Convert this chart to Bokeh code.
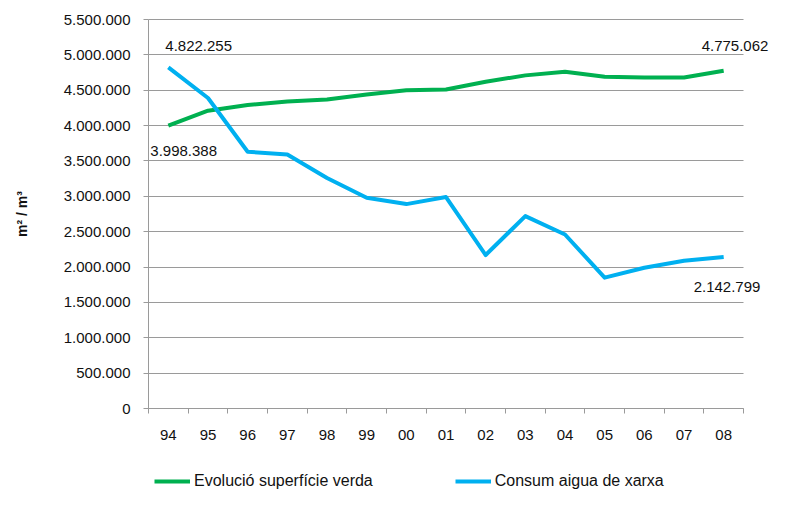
import math
from bokeh.plotting import figure
from bokeh.models import Range1d, FixedTicker, Legend, LegendItem, ColumnDataSource, LabelSet, Label
from bokeh.core.properties import value
from bokeh.embed import file_html
from bokeh.resources import INLINE

years = ["94", "95", "96", "97", "98", "99", "00", "01", "02", "03", "04", "05", "06", "07", "08"]
verda = [3998388, 4210000, 4290000, 4340000, 4370000, 4440000, 4500000, 4510000,
         4620000, 4710000, 4760000, 4690000, 4680000, 4680000, 4775062]
aigua = [4822255, 4390000, 3630000, 3590000, 3260000, 2980000, 2890000, 2990000,
         2170000, 2720000, 2460000, 1850000, 1990000, 2090000, 2142799]
y_ticks = list(range(0, 5500001, 500000))
Y_MAX = 5500000
series_names = ["Evolució superfície verda", "Consum aigua de xarxa"]
y_title = "m² / m³"

GREEN = "#00B050"
BLUE = "#00B0F0"
GRID = "#9A9A9A"
TXT = "#111111"
FONT = "Liberation Sans"
FS = "15px"

# layout (pixels)
W, H = 779, 495
LEFT, TOP = 148, 19
AX_RIGHT, AX_BOTTOM = 743, 408     # where the category axis ends / zero line sits


def fmt(v):
    return f"{v:,}".replace(",", ".")


n = len(years)
xs = [i + 0.5 for i in range(n)]

# the frame covers the whole canvas so texts and legend are never clipped
unit = (AX_RIGHT - LEFT) / n
x_start = -LEFT / unit
x_end = (W - LEFT) / unit
per_px = Y_MAX / (AX_BOTTOM - TOP)
y_start = -per_px * (H - AX_BOTTOM)
y_end = Y_MAX + per_px * TOP

p = figure(width=W, height=H, output_backend="svg", toolbar_location=None,
           x_range=Range1d(x_start, x_end), y_range=Range1d(y_start, y_end),
           min_border_left=0, min_border_right=0, min_border_top=0, min_border_bottom=0)
p.outline_line_color = None
p.background_fill_color = "white"
p.border_fill_color = "white"

# Category axis
p.xaxis.fixed_location = 0
p.xaxis.bounds = (0, n)
p.xaxis.ticker = FixedTicker(ticks=xs, minor_ticks=list(range(n + 1)))
p.xaxis.major_label_overrides = {x: y for x, y in zip(xs, years)}
p.xaxis.major_tick_out = 0
p.xaxis.major_tick_in = 0
p.xaxis.minor_tick_out = 5
p.xaxis.minor_tick_in = 0
p.xaxis.minor_tick_line_color = GRID
p.xaxis.axis_line_color = GRID
p.xaxis.major_label_standoff = 16
p.xaxis.major_label_text_font = FONT
p.xaxis.major_label_text_font_size = FS
p.xaxis.major_label_text_color = TXT

# Value axis
p.yaxis.fixed_location = 0
p.yaxis.bounds = (0, Y_MAX)
p.yaxis.ticker = FixedTicker(ticks=y_ticks)
p.yaxis.major_label_overrides = {t: fmt(t) for t in y_ticks}
p.yaxis.major_tick_out = 5
p.yaxis.major_tick_in = 0
p.yaxis.minor_tick_line_color = None
p.yaxis.major_tick_line_color = GRID
p.yaxis.axis_line_color = GRID
p.yaxis.major_label_standoff = 13
p.yaxis.major_label_text_font = FONT
p.yaxis.major_label_text_font_size = FS
p.yaxis.major_label_text_color = TXT

# Value axis title, centred on the value range
p.add_layout(Label(x=x_start, y=Y_MAX / 2, x_offset=21, text=y_title, angle=math.pi / 2,
                   text_font=FONT, text_font_style="bold", text_font_size="14px",
                   text_color=TXT, text_align="center", text_baseline="middle"))

p.xgrid.grid_line_color = None
p.ygrid.ticker = FixedTicker(ticks=y_ticks)
p.ygrid.grid_line_color = GRID
p.ygrid.grid_line_width = 1
try:
    p.ygrid.cross_bounds = (0, n)
except Exception:
    p.ygrid.grid_line_color = None
    p.segment(x0=[0] * len(y_ticks), x1=[n] * len(y_ticks), y0=y_ticks, y1=y_ticks,
              line_color=GRID, line_width=1)

src = ColumnDataSource(dict(x=xs, verda=verda, aigua=aigua))
r_green = p.line("x", "verda", source=src, line_color=GREEN, line_width=4, line_join="round")
r_blue = p.line("x", "aigua", source=src, line_color=BLUE, line_width=4, line_join="round")

# Data labels (first and last of each series)
lab = ColumnDataSource(dict(
    x=[xs[0], xs[0], xs[-1], xs[-1]],
    y=[aigua[0], verda[0], verda[-1], aigua[-1]],
    t=[fmt(aigua[0]), fmt(verda[0]), fmt(verda[-1]), fmt(aigua[-1])],
    xo=[-3, -18, -22, -30],
    yo=[21, -25, 25, -30],
))
labels = LabelSet(x="x", y="y", text="t", x_offset="xo", y_offset="yo", source=lab,
                  text_font=value(FONT), text_font_size=FS, text_color=TXT,
                  text_align="left", text_baseline="middle")
p.add_layout(labels)

legend = Legend(items=[LegendItem(label=series_names[0], renderers=[r_green]),
                       LegendItem(label=series_names[1], renderers=[r_blue])],
                orientation="horizontal", location=(LEFT + 6, 5))
legend.label_text_font = FONT
legend.label_text_font_size = "16px"
legend.label_text_color = TXT
legend.glyph_width = 36
legend.glyph_height = 16
legend.label_standoff = 4
legend.spacing = 82
legend.padding = 4
legend.margin = 0
legend.border_line_color = None
legend.background_fill_alpha = 0
p.add_layout(legend, "center")

open("out.html", "w").write(file_html(p, INLINE))
